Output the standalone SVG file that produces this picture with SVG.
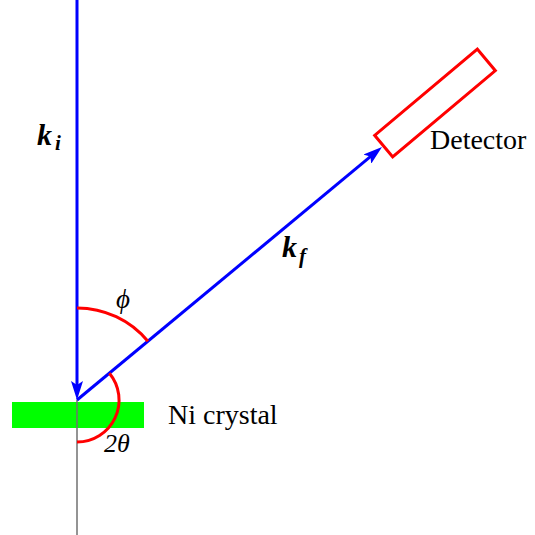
<svg xmlns="http://www.w3.org/2000/svg" width="535" height="535" viewBox="0 0 535 535">
  <style>
    .beam { stroke: #0000ff; stroke-width: 3; fill: none; }
    .arc { stroke: #ff0000; stroke-width: 3; fill: none; }
    .lbl { font-family: "Liberation Serif", "Times New Roman", serif; fill: #000; }
    .vec { font-family: "Liberation Serif", "Times New Roman", serif; font-style: italic; font-weight: bold; fill: #000; }
    .sym { font-family: "Liberation Serif", "Times New Roman", serif; font-style: italic; fill: #000; }
  </style>
  <defs>
    <marker id="arrow" markerUnits="userSpaceOnUse" markerWidth="19" markerHeight="12" viewBox="0 0 19 12" refX="9" refY="6" orient="auto">
      <path d="M0,0 L19,6 L0,12 L4,6 z" fill="#0000ff"/>
    </marker>
  </defs>
  <rect width="535" height="535" fill="#ffffff"/>

  <g id="crystal">
    <rect x="12" y="402" width="132" height="26" fill="#00ff00"/>
    <text class="lbl" x="168" y="424" font-size="28">Ni crystal</text>
  </g>

  <g id="axis">
    <line x1="77" y1="400" x2="77" y2="535" stroke="#707070" stroke-width="1.5"/>
  </g>

  <g id="detector">
    <rect x="-67" y="-14" width="134" height="28" fill="none" stroke="#ff0000" stroke-width="3" transform="translate(435,103) rotate(-40)"/>
    <text class="lbl" x="430" y="149" font-size="28">Detector</text>
  </g>

  <g id="connectors">
    <line class="beam" x1="77" y1="0" x2="77" y2="390" marker-end="url(#arrow)"/>
    <line class="beam" x1="77" y1="400" x2="374.3" y2="153.4" marker-end="url(#arrow)"/>
  </g>

  <g id="angles">
    <path class="arc" d="M77,308 A92,92 0 0 1 147.9,341.3"/>
    <path class="arc" d="M109.4,373.2 A42,42 0 0 1 77,442"/>
    <text class="sym" x="116" y="308" font-size="27">ϕ</text>
    <text class="sym" x="104" y="452" font-size="26">2θ</text>
  </g>

  <g id="labels">
    <text class="vec" x="37" y="145" font-size="30">k<tspan x="55" y="150" font-size="21">i</tspan></text>
    <text class="vec" x="282" y="257" font-size="30">k<tspan x="299" y="263" font-size="21">f</tspan></text>
  </g>
</svg>
